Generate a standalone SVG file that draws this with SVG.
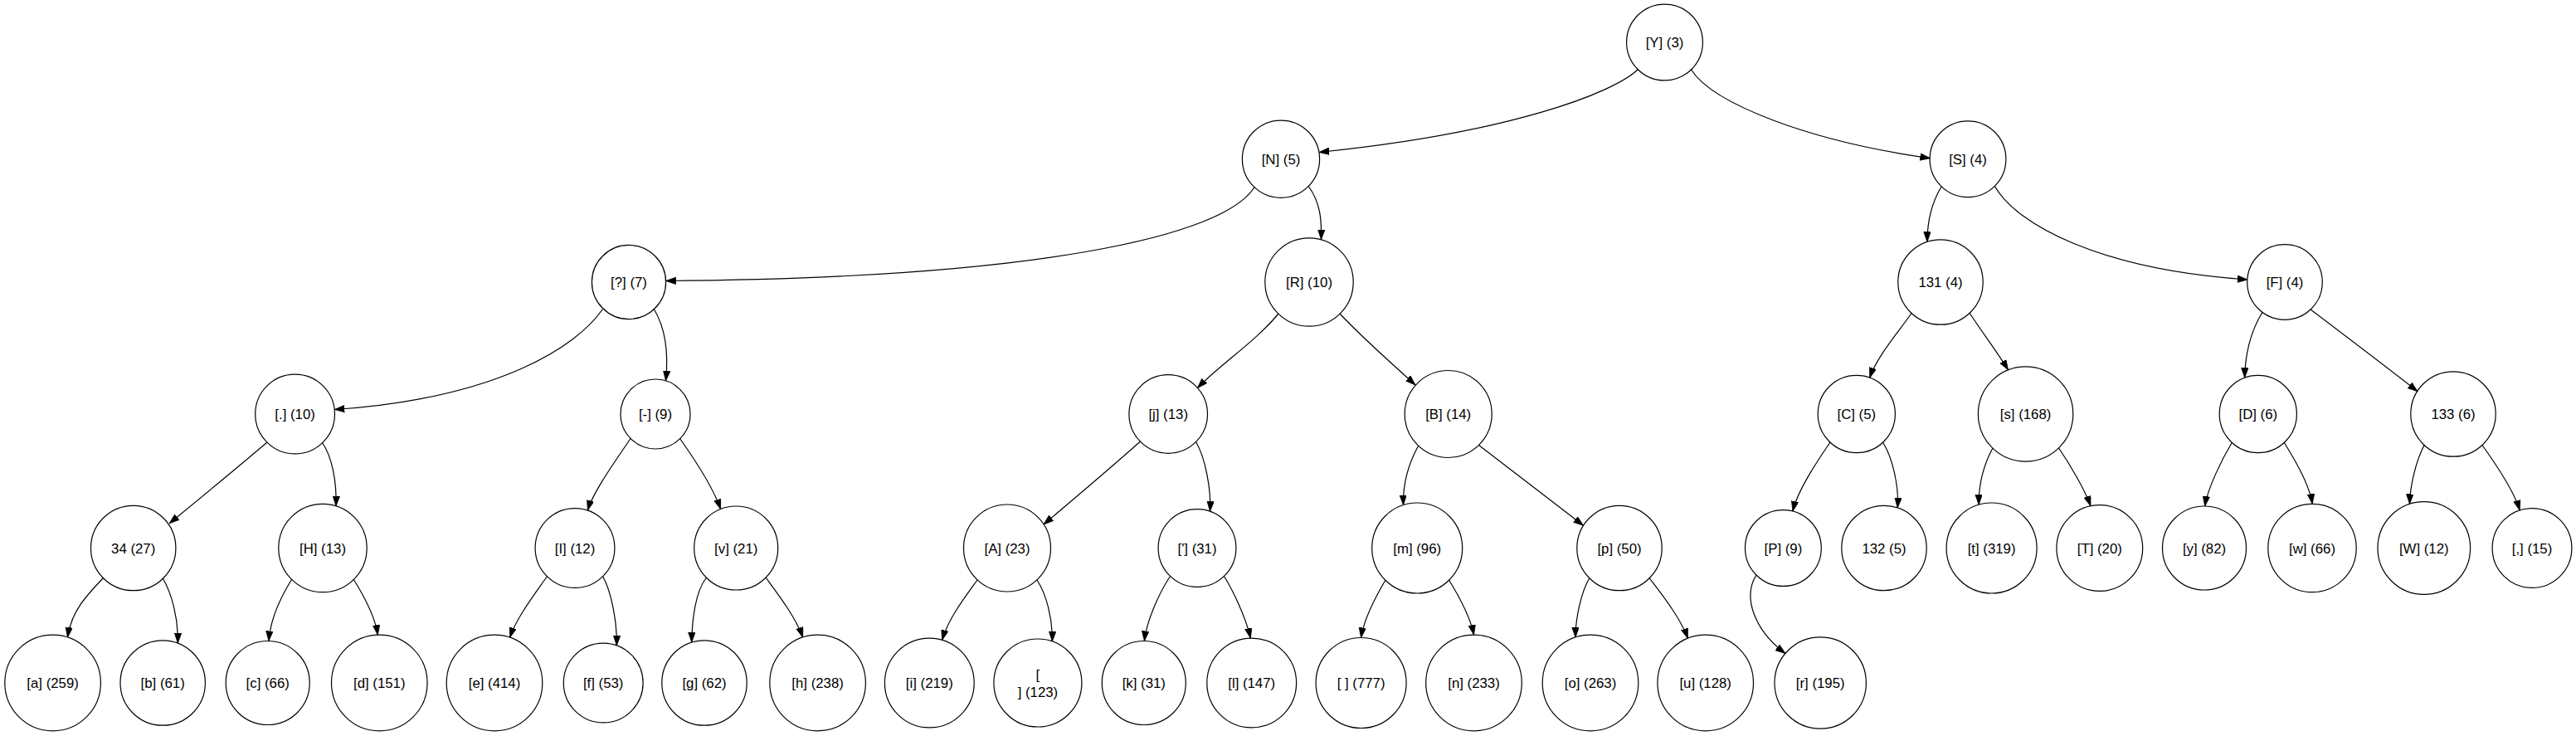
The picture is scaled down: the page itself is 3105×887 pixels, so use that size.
<svg xmlns="http://www.w3.org/2000/svg" width="3105" height="887" viewBox="0 0 3105 887">
<style>
.n ellipse{fill:none;stroke:#000;stroke-width:1.2}
.n text{font-family:"Liberation Sans",Arial,sans-serif;font-size:16.8px;fill:#000;text-anchor:middle}
#edges path{fill:none;stroke:#000;stroke-width:1.2;marker-end:url(#arr)}
</style>
<defs>
<marker id="arr" markerUnits="userSpaceOnUse" markerWidth="13" markerHeight="10" refX="12" refY="4.2" orient="auto">
<path d="M0,0 L12,4.2 L0,8.4 z" fill="#000" stroke="#000" stroke-width="0.8"/>
</marker>
</defs>
<rect width="3105" height="887" fill="#fff"/>
<g id="edges">
<path d="M1974.5,83.5 C1945,112 1820,160 1590,183.5"/>
<path d="M2038.5,84 C2065,125 2180,170 2326.4,190.7"/>
<path d="M1512,225.5 C1475,285 1250,335 802.6,338.5"/>
<path d="M1577,224 C1592,245 1593,265 1592.5,288.8"/>
<path d="M2340,225 C2328,245 2323,265 2323,291.4"/>
<path d="M2404.5,224.5 C2430,270 2530,325 2709,337"/>
<path d="M726.5,372.5 C695,418 600,480 403.3,493.5"/>
<path d="M788,372 C802,395 806,425 802.5,458.9"/>
<path d="M1541,378 C1515,410 1470,440 1443.5,467.5"/>
<path d="M1615,378 C1645,410 1680,440 1706,464"/>
<path d="M2304,377.5 C2290,398 2262,430 2253.8,455.2"/>
<path d="M2374,377 C2386,396 2408,425 2420.5,445.8"/>
<path d="M2727,376.5 C2712,400 2706,430 2705.7,455.3"/>
<path d="M2785,373 C2826,404 2871,438 2914,471.7"/>
<path d="M322,533 C282,567 243,599 204.2,630.7"/>
<path d="M388.5,533.5 C400,550 406,580 405,609.8"/>
<path d="M760,528.5 C745,551 715,592 708.4,615"/>
<path d="M819.5,528.5 C834,549 860,588 868.5,613.6"/>
<path d="M1374.5,532 C1335,567 1296,600 1258,632"/>
<path d="M1441.5,532.5 C1453,552 1460,590 1458.5,616.2"/>
<path d="M1709.5,537.5 C1697,560 1691,585 1691.5,608.6"/>
<path d="M1782.5,536.5 C1826,570 1867,601 1908.4,633.3"/>
<path d="M2206,533 C2193,552 2167,590 2160.9,616.1"/>
<path d="M2269.5,533 C2282,553 2289,588 2287.2,611.9"/>
<path d="M2402,540 C2390,562 2385,585 2385.2,608.2"/>
<path d="M2481.5,540 C2494,558 2513,590 2519.9,609.8"/>
<path d="M2690.5,533 C2679,552 2661,588 2657.7,610"/>
<path d="M2753,533 C2765,552 2784,585 2787.2,607.3"/>
<path d="M2922,536.5 C2912,556 2905,585 2904.5,607.5"/>
<path d="M2992,536.5 C3006,556 3030,590 3037.1,615"/>
<path d="M124.5,696.5 C103,719 86,737 81.5,768"/>
<path d="M196,696.5 C207,715 215,745 214.3,775"/>
<path d="M351.5,698.5 C340,717 326,745 324,772.5"/>
<path d="M426,698 C438,717 452,742 455.3,765.2"/>
<path d="M659.5,694.5 C646,714 622,745 614.7,768.3"/>
<path d="M726.5,694.5 C737,713 744,750 743.3,777.9"/>
<path d="M851.5,696 C838,713 834,748 833.7,774.1"/>
<path d="M923,696 C937,715 960,745 967.6,768.1"/>
<path d="M1178,699 C1165,717 1143,745 1135.7,771.3"/>
<path d="M1250,699 C1261,716 1269,745 1268.3,773"/>
<path d="M1410.5,694.5 C1398,713 1382,748 1379.4,772.5"/>
<path d="M1475.5,694.5 C1487,713 1502,745 1507.3,769.1"/>
<path d="M1670,699 C1660,716 1644,745 1640.6,768.5"/>
<path d="M1746.5,699 C1757,716 1772,742 1776.5,765.2"/>
<path d="M1916,696.5 C1906,713 1899,745 1899,768.1"/>
<path d="M1988,696.5 C2002,715 2026,745 2034.3,769.3"/>
<path d="M2117,693 C2100,720 2115,760 2152,787.5"/>
</g>
<g id="nY" class="n"><ellipse cx="2006.5" cy="51" rx="45.9" ry="45.9"/><text x="2006.5" y="57">[Y] (3)</text></g>
<g id="nN" class="n"><ellipse cx="1544" cy="191.7" rx="46.6" ry="46.6"/><text x="1544" y="197.7">[N] (5)</text></g>
<g id="nS" class="n"><ellipse cx="2372" cy="191.7" rx="45.9" ry="45.9"/><text x="2372" y="197.7">[S] (4)</text></g>
<g id="nQ" class="n"><ellipse cx="758" cy="340" rx="44.6" ry="44.6"/><text x="758" y="346">[?] (7)</text></g>
<g id="nR" class="n"><ellipse cx="1578" cy="340" rx="53.2" ry="53.2"/><text x="1578" y="346">[R] (10)</text></g>
<g id="n131" class="n"><ellipse cx="2339" cy="340" rx="51.2" ry="51.2"/><text x="2339" y="346">131 (4)</text></g>
<g id="nF" class="n"><ellipse cx="2754" cy="340" rx="45.3" ry="45.3"/><text x="2754" y="346">[F] (4)</text></g>
<g id="nDot" class="n"><ellipse cx="355.6" cy="499" rx="47.9" ry="47.9"/><text x="355.6" y="505">[.] (10)</text></g>
<g id="nDash" class="n"><ellipse cx="790" cy="499" rx="42" ry="42"/><text x="790" y="505">[-] (9)</text></g>
<g id="nj" class="n"><ellipse cx="1408.2" cy="499" rx="47.3" ry="47.3"/><text x="1408.2" y="505">[j] (13)</text></g>
<g id="nB" class="n"><ellipse cx="1745.7" cy="499" rx="52.5" ry="52.5"/><text x="1745.7" y="505">[B] (14)</text></g>
<g id="nC" class="n"><ellipse cx="2237.8" cy="499" rx="46.6" ry="46.6"/><text x="2237.8" y="505">[C] (5)</text></g>
<g id="ns" class="n"><ellipse cx="2441.6" cy="499" rx="57.2" ry="57.2"/><text x="2441.6" y="505">[s] (168)</text></g>
<g id="nD" class="n"><ellipse cx="2721.8" cy="499" rx="46.6" ry="46.6"/><text x="2721.8" y="505">[D] (6)</text></g>
<g id="n133" class="n"><ellipse cx="2957" cy="499" rx="51.2" ry="51.2"/><text x="2957" y="505">133 (6)</text></g>
<g id="n34" class="n"><ellipse cx="160.7" cy="660.5" rx="51.2" ry="51.2"/><text x="160.7" y="666.5">34 (27)</text></g>
<g id="nH" class="n"><ellipse cx="389" cy="660.5" rx="53.2" ry="53.2"/><text x="389" y="666.5">[H] (13)</text></g>
<g id="nI" class="n"><ellipse cx="693" cy="660.5" rx="47.9" ry="47.9"/><text x="693" y="666.5">[I] (12)</text></g>
<g id="nv" class="n"><ellipse cx="887.2" cy="660.5" rx="50.5" ry="50.5"/><text x="887.2" y="666.5">[v] (21)</text></g>
<g id="nA" class="n"><ellipse cx="1214" cy="660.5" rx="52.5" ry="52.5"/><text x="1214" y="666.5">[A] (23)</text></g>
<g id="nApos" class="n"><ellipse cx="1443" cy="660.5" rx="46.9" ry="46.9"/><text x="1443" y="666.5">['] (31)</text></g>
<g id="nm" class="n"><ellipse cx="1708.2" cy="660.5" rx="54.5" ry="54.5"/><text x="1708.2" y="666.5">[m] (96)</text></g>
<g id="np" class="n"><ellipse cx="1952" cy="660.5" rx="51.2" ry="51.2"/><text x="1952" y="666.5">[p] (50)</text></g>
<g id="nP" class="n"><ellipse cx="2149.4" cy="660.5" rx="45.9" ry="45.9"/><text x="2149.4" y="666.5">[P] (9)</text></g>
<g id="n132" class="n"><ellipse cx="2271" cy="660.5" rx="51.2" ry="51.2"/><text x="2271" y="666.5">132 (5)</text></g>
<g id="nt" class="n"><ellipse cx="2400.6" cy="660.5" rx="54.5" ry="54.5"/><text x="2400.6" y="666.5">[t] (319)</text></g>
<g id="nT" class="n"><ellipse cx="2530.8" cy="660.5" rx="51.9" ry="51.9"/><text x="2530.8" y="666.5">[T] (20)</text></g>
<g id="ny" class="n"><ellipse cx="2657" cy="660.5" rx="50.5" ry="50.5"/><text x="2657" y="666.5">[y] (82)</text></g>
<g id="nw" class="n"><ellipse cx="2787" cy="660.5" rx="53.2" ry="53.2"/><text x="2787" y="666.5">[w] (66)</text></g>
<g id="nW" class="n"><ellipse cx="2921.8" cy="660.5" rx="55.8" ry="55.8"/><text x="2921.8" y="666.5">[W] (12)</text></g>
<g id="nComma" class="n"><ellipse cx="3052" cy="660.5" rx="47.9" ry="47.9"/><text x="3052" y="666.5">[,] (15)</text></g>
<g id="na" class="n"><ellipse cx="63.6" cy="823" rx="57.8" ry="57.8"/><text x="63.6" y="829">[a] (259)</text></g>
<g id="nb" class="n"><ellipse cx="196.2" cy="823" rx="51.2" ry="51.2"/><text x="196.2" y="829">[b] (61)</text></g>
<g id="nc" class="n"><ellipse cx="322.7" cy="823" rx="50.5" ry="50.5"/><text x="322.7" y="829">[c] (66)</text></g>
<g id="nd" class="n"><ellipse cx="457.3" cy="823" rx="57.8" ry="57.8"/><text x="457.3" y="829">[d] (151)</text></g>
<g id="ne" class="n"><ellipse cx="596" cy="823" rx="57.8" ry="57.8"/><text x="596" y="829">[e] (414)</text></g>
<g id="nf" class="n"><ellipse cx="727.2" cy="823" rx="47.9" ry="47.9"/><text x="727.2" y="829">[f] (53)</text></g>
<g id="ng" class="n"><ellipse cx="849" cy="823" rx="51.2" ry="51.2"/><text x="849" y="829">[g] (62)</text></g>
<g id="nh" class="n"><ellipse cx="985.6" cy="823" rx="57.8" ry="57.8"/><text x="985.6" y="829">[h] (238)</text></g>
<g id="ni" class="n"><ellipse cx="1120.3" cy="823" rx="53.9" ry="53.9"/><text x="1120.3" y="829">[i] (219)</text></g>
<g id="nNl" class="n"><ellipse cx="1250.9" cy="823" rx="53" ry="53"/><text x="1250.9" y="818.5">[<tspan x="1250.9" y="840">] (123)</tspan></text></g>
<g id="nk" class="n"><ellipse cx="1378.8" cy="823" rx="50.5" ry="50.5"/><text x="1378.8" y="829">[k] (31)</text></g>
<g id="nl" class="n"><ellipse cx="1508.7" cy="823" rx="53.9" ry="53.9"/><text x="1508.7" y="829">[l] (147)</text></g>
<g id="nSp" class="n"><ellipse cx="1640.6" cy="823" rx="54.5" ry="54.5"/><text x="1640.6" y="829">[ ] (777)</text></g>
<g id="nn" class="n"><ellipse cx="1776.5" cy="823" rx="57.8" ry="57.8"/><text x="1776.5" y="829">[n] (233)</text></g>
<g id="no" class="n"><ellipse cx="1917" cy="823" rx="57.8" ry="57.8"/><text x="1917" y="829">[o] (263)</text></g>
<g id="nu" class="n"><ellipse cx="2055.7" cy="823" rx="57.8" ry="57.8"/><text x="2055.7" y="829">[u] (128)</text></g>
<g id="nr" class="n"><ellipse cx="2194.2" cy="823" rx="55.2" ry="55.2"/><text x="2194.2" y="829">[r] (195)</text></g>
</svg>
